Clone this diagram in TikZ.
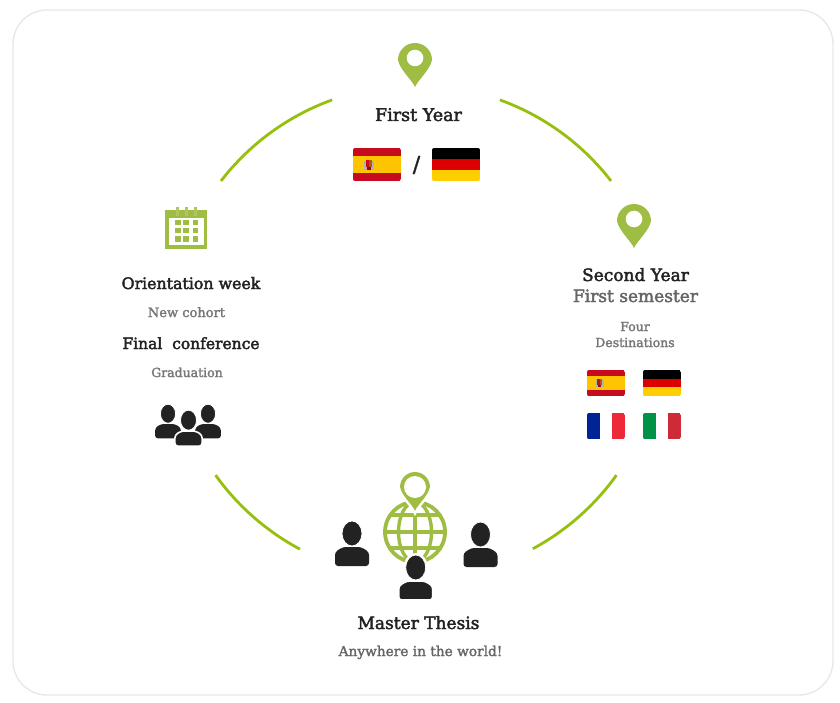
\documentclass[tikz,border=0pt]{standalone}
\usepackage{fontspec}
\setmainfont{DejaVu Serif}
\definecolor{ringgreen}{HTML}{97BF0D}
\definecolor{icongreen}{HTML}{9FBD42}
\definecolor{darktext}{HTML}{222222}
\definecolor{greytext}{HTML}{777777}
\definecolor{esred}{HTML}{C60B1E}
\definecolor{esyellow}{HTML}{FFC400}
\definecolor{dered}{HTML}{DD0000}
\definecolor{deyellow}{HTML}{FFCE00}
\definecolor{frblue}{HTML}{002395}
\definecolor{frred}{HTML}{ED2939}
\definecolor{itgreen}{HTML}{009246}
\definecolor{itred}{HTML}{CE2B37}
\newcommand{\pinpath}{(0,27) .. controls (-3,20) and (-15,10) .. (-17,0) arc[start angle=180,end angle=360,radius=17] .. controls (15,10) and (3,20) .. (0,27) -- cycle}
\newcommand{\bodypath}{(-17,44) -- (-17,30) -- (-9,25) -- (9,25) -- (17,30) -- (17,44) -- cycle}
\begin{document}
\begin{tikzpicture}
[
x=1pt, y=-1pt,
ringarc/.style={draw=ringgreen, line width=2.8pt},
heading/.style={anchor=base, inner sep=0, text=darktext, font=\fontsize{17}{20}\selectfont, execute at begin node={\special{pdf:code 2 Tr 0.4 w}}},
subheading/.style={anchor=base, inner sep=0, text=greytext, font=\fontsize{13}{16}\selectfont, execute at begin node={\special{pdf:code 2 Tr 0.25 w}}},
pics/locpin/.style={code={
	\fill[icongreen] \pinpath;
	\fill[white] (0,-2) circle (8.3);
}},
pics/ringpin/.style={code={
	\draw[white, line width=5pt, fill=white, scale=.88] \pinpath;
	\fill[icongreen, scale=.88] \pinpath;
	\fill[white] (0,0) circle (11);
}},
pics/person/.style={code={
	\fill[darktext, rounded corners=3pt] \bodypath;
	\draw[white, fill=darktext, line width=.8pt] (0,11.5) ellipse (10 and 12.5);
}},
pics/haloperson/.style={code={
	\fill[white] (0,11.5) ellipse (12 and 14.5);
	\draw[white, fill=darktext, line width=1.6pt, rounded corners=3pt] \bodypath;
	\draw[white, fill=darktext, line width=.8pt] (0,11.5) ellipse (10 and 12.5);
}},
pics/spainflag/.style={code={
	\begin{scope}
	\clip[rounded corners=2pt] (0,0) rectangle (48,33);
	\fill[esred] (0,0) rectangle (48,33);
	\fill[esyellow] (0,8) rectangle (48,25);
	\end{scope}
	\fill[black!30] (11,13) rectangle (21,22);
	\fill[esred] (13,12) rectangle (16,19);
	\fill[orange!70!black] (16,12) rectangle (19,19);
	\fill[esred!70!black] (14,19) rectangle (18,22);
}},
pics/germanflag/.style={code={
	\begin{scope}
	\clip[rounded corners=2pt] (0,0) rectangle (48,33);
	\fill[black] (0,0) rectangle (48,11);
	\fill[dered] (0,11) rectangle (48,22);
	\fill[deyellow] (0,22) rectangle (48,33);
	\end{scope}
}},
pics/triflag/.style n args={2}{code={
	\begin{scope}
	\clip[rounded corners=2pt] (0,0) rectangle (48,33);
	\fill[#1] (0,0) rectangle (16,33);
	\fill[#2] (32,0) rectangle (48,33);
	\end{scope}
}}
]
\useasboundingbox (0,0) rectangle (840,703);
\fill[white] (0,0) rectangle (840,703);
\draw[draw=black!9, line width=1.4pt, rounded corners=34pt] (13,10) rectangle (833,695);

%Ring
\coordinate (c) at (416,331.7);
\draw[ringarc] (c) ++(-142.3:246.5) arc[start angle=-142.3, end angle=-109.9, radius=246.5];
\draw[ringarc] (c) ++(-70.1:246.5) arc[start angle=-70.1, end angle=-37.7, radius=246.5];
\draw[ringarc] (c) ++(35.6:246.5) arc[start angle=35.6, end angle=61.7, radius=246.5];
\draw[ringarc] (c) ++(144.4:246.5) arc[start angle=144.4, end angle=118.1, radius=246.5];

%First Year
\pic at(415,60) {locpin};
\node[heading, font=\fontsize{17.5}{20}\selectfont] at(418.5,121)	(firstyear) {First Year};
\pic at(353,148) {spainflag};
\pic at(432,148) {germanflag};
\node[heading, font=\fontsize{22}{24}\selectfont] at(416.5,172) (slash) {/};

%Second Year
\pic at(634,221) {locpin};
\node[heading] at(635.5,281)	(secondyear) {Second Year};
\node[heading, text=greytext!85!black] at(635.5,302)	(firstsemester) {First semester};
\node[subheading, font=\fontsize{12.5}{16}\selectfont] at(635,331)	(four) {Four};
\node[subheading, font=\fontsize{12.5}{16}\selectfont] at(635,347)	(destinations) {Destinations};
\pic[scale=.79] at(587,370) {spainflag};
\pic[scale=.79] at(643,370) {germanflag};
\pic[scale=.79] at(587,413) {triflag={frblue}{frred}};
\pic[scale=.79] at(643,413) {triflag={itgreen}{itred}};

%Orientation
\fill[icongreen] (165,210) rectangle (207,249);
\fill[white] (168.5,218) rectangle (203.5,245.5);
\foreach \cx in {177.7,186.2,195.5}
{
	\draw[icongreen!85!white, line width=3pt] (\cx,207) -- (\cx,216);
	\foreach \cy in {222.7,230.7,239}
		\fill[icongreen] (\cx-2.8,\cy-2.8) rectangle (\cx+2.8,\cy+2.8);
}
\node[heading, font=\fontsize{15.8}{20}\selectfont] at(191,289)	(orientation) {Orientation week};
\node[subheading] at(186.5,317)	(newcohort) {New cohort};
\node[heading, font=\fontsize{15.5}{20}\selectfont] at(191,349)	(finalconf) {Final\ \ conference};
\node[subheading, font=\fontsize{12.5}{16}\selectfont] at(187,377)	(graduation) {Graduation};
\pic[scale=.76] at(168,405) {person};
\pic[scale=.76] at(208,405) {person};
\pic[scale=.8] at(188.5,411) {haloperson};

%Master Thesis
\draw[icongreen, line width=3.8pt] (415,532) circle (30);
\draw[icongreen, line width=3.4pt] (415,532) ellipse (16.5 and 30);
\draw[icongreen, line width=3.4pt] (415,502) -- (415,562);
\foreach \ly/\lx in {515/24.5,532/30,548/25}
	\draw[icongreen, line width=3.2pt] (415-\lx,\ly) -- (415+\lx,\ly);
\pic at(415,487) {ringpin};
\pic at(352,522) {person};
\pic at(480.5,523) {person};
\pic at(415.7,556) {haloperson};
\node[heading] at(418.5,629)	(masterthesis) {Master Thesis};
\node[subheading, text=greytext!85!black, font=\fontsize{13.7}{16}\selectfont] at(420.5,656)	(anywhere) {Anywhere in the world!};

\end{tikzpicture}
\end{document}
